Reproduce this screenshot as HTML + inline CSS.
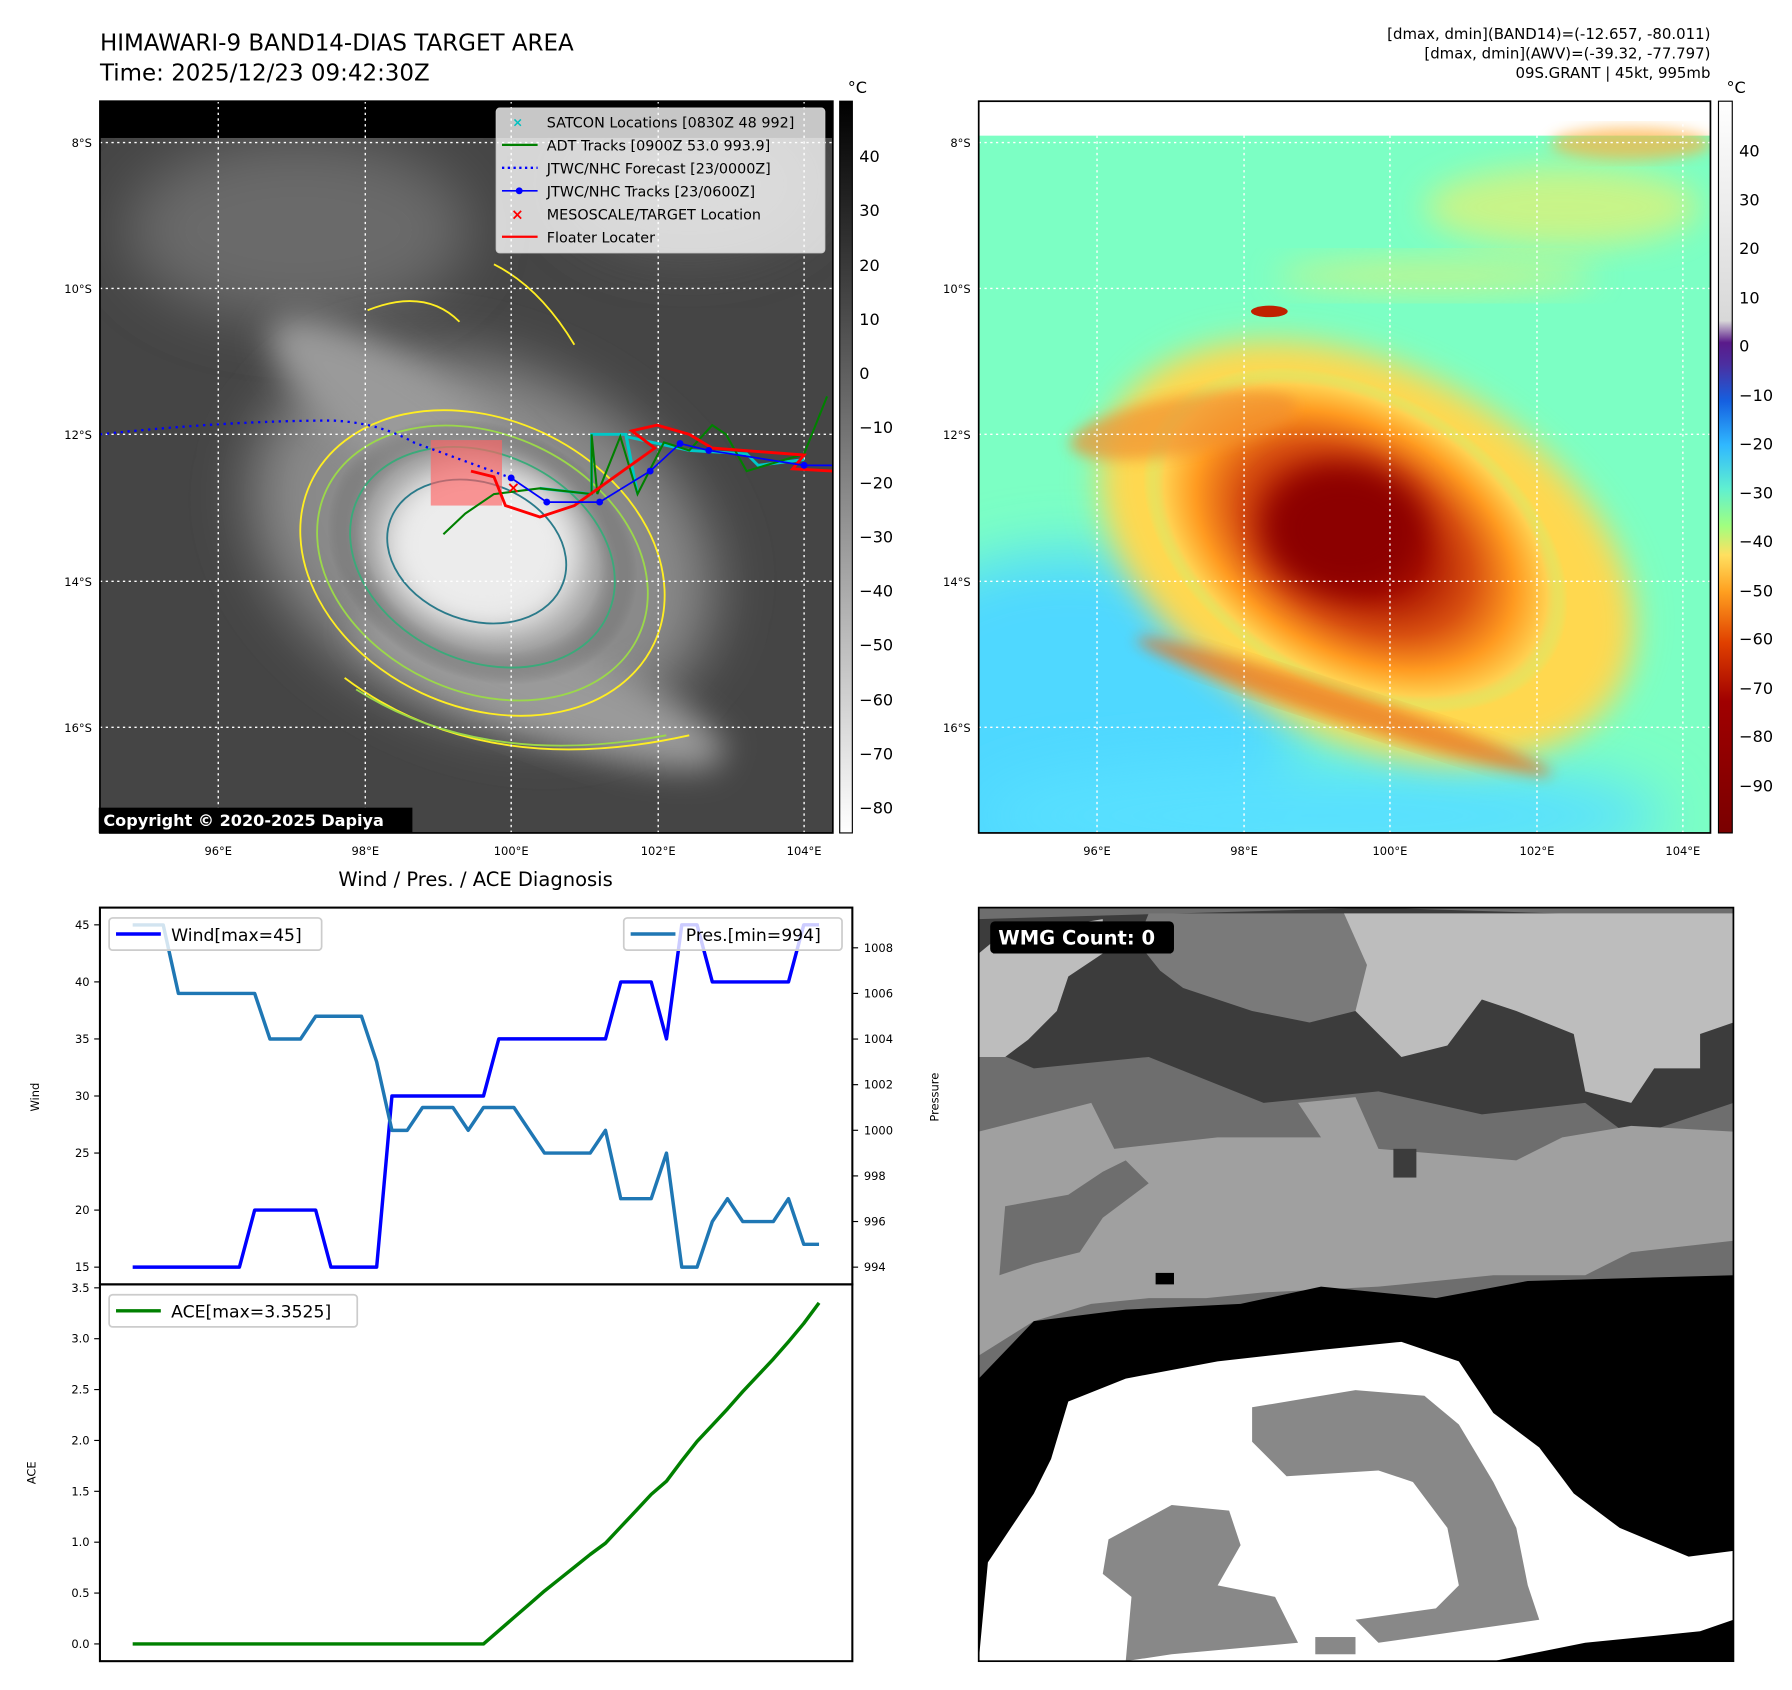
<!DOCTYPE html>
<html><head><meta charset="utf-8">
<style>
html,body{margin:0;padding:0;background:#fff;}
svg{display:block;font-family:"DejaVu Sans","Liberation Sans",sans-serif;}
</style></head>
<body>
<svg id="root" width="1792" height="1690" viewBox="0 0 1560 1471" xmlns="http://www.w3.org/2000/svg">
<defs>
 <filter id="b6" x="-20%" y="-20%" width="140%" height="140%"><feGaussianBlur stdDeviation="6"/></filter>
 <filter id="b14" x="-30%" y="-30%" width="160%" height="160%"><feGaussianBlur stdDeviation="14"/></filter>
 <filter id="b25" x="-40%" y="-40%" width="180%" height="180%"><feGaussianBlur stdDeviation="25"/></filter>
 <clipPath id="cl"><rect x="87" y="88" width="638" height="637"/></clipPath>
 <clipPath id="cr"><rect x="852" y="88" width="637" height="637"/></clipPath>
 <clipPath id="cb"><rect x="852" y="790" width="657" height="656"/></clipPath>
 <linearGradient id="cbL" x1="0" y1="0" x2="0" y2="1">
  <stop offset="0" stop-color="#000"/><stop offset="1" stop-color="#fff"/>
 </linearGradient>
 <linearGradient id="cbR" x1="0" y1="0" x2="0" y2="1">
  <stop offset="0" stop-color="#ffffff"/><stop offset="0.3" stop-color="#d8d8d8"/>
  <stop offset="0.33" stop-color="#5a1a8a"/><stop offset="0.36" stop-color="#4b2fa0"/>
  <stop offset="0.41" stop-color="#1560e0"/><stop offset="0.47" stop-color="#30b8ff"/>
  <stop offset="0.53" stop-color="#60f0d0"/><stop offset="0.58" stop-color="#a0ff80"/>
  <stop offset="0.62" stop-color="#ffe060"/><stop offset="0.67" stop-color="#ffa020"/>
  <stop offset="0.74" stop-color="#e04000"/><stop offset="0.82" stop-color="#a00000"/>
  <stop offset="1" stop-color="#7a0000"/>
 </linearGradient>
 <radialGradient id="gStorm" cx="0.5" cy="0.5" r="0.5">
  <stop offset="0" stop-color="#fafafa"/><stop offset="0.45" stop-color="#dcdcdc"/>
  <stop offset="0.75" stop-color="#a0a0a0"/><stop offset="1" stop-color="#505050" stop-opacity="0"/>
 </radialGradient>
 <radialGradient id="rStorm" cx="0.5" cy="0.5" r="0.5">
  <stop offset="0" stop-color="#8a0000"/><stop offset="0.3" stop-color="#a81000"/>
  <stop offset="0.55" stop-color="#d85010"/><stop offset="0.75" stop-color="#ff9a20"/>
  <stop offset="0.9" stop-color="#ffd050"/><stop offset="1" stop-color="#b0ff80" stop-opacity="0"/>
 </radialGradient>
</defs>

<!-- ========== TOP LEFT MAP ========== -->
<text x="87" y="44" font-size="20">HIMAWARI-9 BAND14-DIAS TARGET AREA</text>
<text x="87" y="70" font-size="20">Time: 2025/12/23 09:42:30Z</text>
<g clip-path="url(#cl)">
 <rect x="87" y="88" width="638" height="637" fill="#454545"/>
 <ellipse cx="260" cy="200" rx="150" ry="80" fill="#6a6a6a" filter="url(#b25)"/>
 <ellipse cx="600" cy="160" rx="110" ry="60" fill="#5c5c5c" filter="url(#b25)"/>
 <ellipse cx="420" cy="470" rx="210" ry="150" transform="rotate(25 420 470)" fill="#8a8a8a" filter="url(#b25)"/>
 <ellipse cx="360" cy="370" rx="150" ry="45" transform="rotate(35 360 370)" fill="#9a9a9a" filter="url(#b14)"/>
 <ellipse cx="470" cy="600" rx="170" ry="40" transform="rotate(20 470 600)" fill="#9a9a9a" filter="url(#b14)"/>
 <ellipse cx="420" cy="480" rx="140" ry="110" transform="rotate(25 420 480)" fill="url(#gStorm)"/>
 <ellipse cx="420" cy="475" rx="80" ry="65" fill="#ececec" filter="url(#b14)"/>
 <rect x="87" y="88" width="638" height="32" fill="#000"/>
 <g fill="none" stroke-width="1.6">
  <ellipse cx="420" cy="490" rx="165" ry="125" transform="rotate(25 420 490)" stroke="#ffee22"/>
  <ellipse cx="420" cy="490" rx="150" ry="112" transform="rotate(25 420 490)" stroke="#9bd84a"/>
  <ellipse cx="420" cy="485" rx="120" ry="90" transform="rotate(25 420 485)" stroke="#3aaa7a"/>
  <ellipse cx="415" cy="480" rx="80" ry="60" transform="rotate(20 415 480)" stroke="#2a7a8a"/>
  <path d="M300 590 Q420 680 600 640" stroke="#ffee22"/>
  <path d="M310 600 Q420 670 580 640" stroke="#9bd84a"/>
  <path d="M320 270 Q370 250 400 280" stroke="#ffee22"/>
  <path d="M430 230 Q470 250 500 300" stroke="#ffee22"/>
 </g>
 <g stroke="#fff" stroke-width="1.2" stroke-dasharray="2,3">
  <line x1="87" y1="124" x2="725" y2="124"/><line x1="87" y1="251" x2="725" y2="251"/>
  <line x1="87" y1="378" x2="725" y2="378"/><line x1="87" y1="506" x2="725" y2="506"/>
  <line x1="87" y1="633" x2="725" y2="633"/>
  <line x1="190" y1="88" x2="190" y2="725"/><line x1="318" y1="88" x2="318" y2="725"/>
  <line x1="445" y1="88" x2="445" y2="725"/><line x1="573" y1="88" x2="573" y2="725"/>
  <line x1="700" y1="88" x2="700" y2="725"/>
 </g>
 <rect x="375" y="383" width="62" height="57" fill="rgba(255,100,100,0.65)"/>
 <path d="M87 378 Q200 366 290 366 Q330 368 360 385 L445 416" fill="none" stroke="#0000ff" stroke-width="2" stroke-dasharray="2,4"/>
 <path d="M470 425 L515 430 L515 378 L545 378 L555 430 L545 380 L600 392 L650 395 L660 405 L700 400" fill="none" stroke="#00c8c8" stroke-width="2.5"/>
 <path d="M386 465 L405 447 L430 430 L470 425 L515 430 L515 378 L520 430 L540 380 L555 430 L578 385 L600 392 L620 370 L632 378 L650 410 L700 395 L720 345" fill="none" stroke="#008000" stroke-width="1.8"/>
 <path d="M410 410 L430 415 L440 440 L470 450 L500 440 L570 390 L550 375 L572 370 L600 378 L620 390 L700 396 L690 408 L725 410" fill="none" stroke="#ff0000" stroke-width="2.5"/>
 <polyline points="445,416 476,437 522,437 566,410 592,386 617,392 700,405 725,405" fill="none" stroke="#0000ff" stroke-width="1.5"/>
 <g fill="#0000ff"><circle cx="445" cy="416" r="3"/><circle cx="476" cy="437" r="3"/><circle cx="522" cy="437" r="3"/><circle cx="566" cy="410" r="3"/><circle cx="592" cy="386" r="3"/><circle cx="617" cy="392" r="3"/><circle cx="700" cy="405" r="3"/></g>
 <text x="441" y="429" font-size="14" fill="#f00" font-weight="bold">×</text>
</g>
<rect x="87" y="88" width="638" height="637" fill="none" stroke="#000" stroke-width="1.5"/>
<g font-size="12.5">
 <rect x="432" y="94" width="286" height="126" rx="3" fill="rgba(255,255,255,0.78)" stroke="#ccc"/>
 <text x="446" y="110" font-size="11" fill="#00c0c0" font-weight="bold">×</text><text x="476" y="111">SATCON Locations [0830Z 48 992]</text>
 <line x1="437" y1="126" x2="468" y2="126" stroke="#008000" stroke-width="2"/><text x="476" y="131">ADT Tracks [0900Z 53.0 993.9]</text>
 <line x1="437" y1="146" x2="468" y2="146" stroke="#00f" stroke-width="2" stroke-dasharray="2,3"/><text x="476" y="151">JTWC/NHC Forecast [23/0000Z]</text>
 <line x1="437" y1="166" x2="468" y2="166" stroke="#00f" stroke-width="1.5"/><circle cx="452" cy="166" r="3" fill="#00f"/><text x="476" y="171">JTWC/NHC Tracks [23/0600Z]</text>
 <text x="445" y="191" font-size="13" fill="#f00" font-weight="bold">×</text><text x="476" y="191">MESOSCALE/TARGET Location</text>
 <line x1="437" y1="206" x2="468" y2="206" stroke="#f00" stroke-width="2"/><text x="476" y="211">Floater Locater</text>
</g>
<g>
 <rect x="86" y="703" width="273" height="22" fill="#000"/>
 <text x="90" y="719" font-size="14" font-weight="bold" fill="#fff">Copyright © 2020-2025 Dapiya</text>
</g>
<g font-size="10" text-anchor="end">
 <text x="80" y="128">8°S</text><text x="80" y="255">10°S</text><text x="80" y="382">12°S</text><text x="80" y="510">14°S</text><text x="80" y="637">16°S</text>
</g>
<g font-size="10" text-anchor="middle">
 <text x="190" y="744">96°E</text><text x="318" y="744">98°E</text><text x="445" y="744">100°E</text><text x="573" y="744">102°E</text><text x="700" y="744">104°E</text>
</g>
<g>
 <text x="738" y="81" font-size="14">°C</text>
 <rect x="731" y="88" width="11" height="637" fill="url(#cbL)" stroke="#000" stroke-width="1"/>
 <g font-size="14">
  <text x="748" y="141">40</text><text x="748" y="188">30</text><text x="748" y="236">20</text><text x="748" y="283">10</text><text x="748" y="330">0</text>
  <text x="748" y="377">−10</text><text x="748" y="425">−20</text><text x="748" y="472">−30</text><text x="748" y="519">−40</text><text x="748" y="566">−50</text>
  <text x="748" y="614">−60</text><text x="748" y="661">−70</text><text x="748" y="708">−80</text>
 </g>
</g>

<!-- ========== TOP RIGHT MAP ========== -->
<g font-size="13" text-anchor="end">
 <text x="1489" y="34">[dmax, dmin](BAND14)=(-12.657, -80.011)</text>
 <text x="1489" y="51">[dmax, dmin](AWV)=(-39.32, -77.797)</text>
 <text x="1489" y="68">09S.GRANT | 45kt, 995mb</text>
</g>
<g clip-path="url(#cr)">
 <rect x="852" y="88" width="637" height="637" fill="#7cffc4"/>
 <rect x="852" y="88" width="637" height="30" fill="#fff"/>
 <ellipse cx="930" cy="640" rx="200" ry="160" fill="#50d8ff" filter="url(#b25)"/>
 <ellipse cx="1150" cy="710" rx="300" ry="50" fill="#58e0ff" filter="url(#b25)"/>
 <ellipse cx="1360" cy="180" rx="120" ry="35" fill="#e8f070" opacity="0.7" filter="url(#b14)"/>
 <ellipse cx="1420" cy="125" rx="70" ry="14" fill="#ffb040" opacity="0.7" filter="url(#b6)"/>
 <ellipse cx="1250" cy="240" rx="140" ry="15" fill="#e8f070" opacity="0.6" filter="url(#b14)"/>
 <ellipse cx="1190" cy="480" rx="250" ry="160" transform="rotate(28 1190 480)" fill="#ffd850" filter="url(#b14)"/>
 <ellipse cx="1180" cy="470" rx="200" ry="130" transform="rotate(30 1180 470)" fill="url(#rStorm)"/>
 <ellipse cx="1170" cy="460" rx="70" ry="55" fill="#8c0000" filter="url(#b14)"/>
 <ellipse cx="1170" cy="615" rx="190" ry="14" transform="rotate(18 1170 615)" fill="#e87020" opacity="0.7" filter="url(#b6)"/>
 <ellipse cx="1030" cy="370" rx="100" ry="25" transform="rotate(-10 1030 370)" fill="#f09030" opacity="0.7" filter="url(#b6)"/>
 <ellipse cx="1105" cy="271" rx="16" ry="5" fill="#c02000"/>
 <g stroke="#fff" stroke-width="1.2" stroke-dasharray="2,3">
  <line x1="852" y1="124" x2="1489" y2="124"/><line x1="852" y1="251" x2="1489" y2="251"/>
  <line x1="852" y1="378" x2="1489" y2="378"/><line x1="852" y1="506" x2="1489" y2="506"/>
  <line x1="852" y1="633" x2="1489" y2="633"/>
  <line x1="955" y1="88" x2="955" y2="725"/><line x1="1083" y1="88" x2="1083" y2="725"/>
  <line x1="1210" y1="88" x2="1210" y2="725"/><line x1="1338" y1="88" x2="1338" y2="725"/>
  <line x1="1465" y1="88" x2="1465" y2="725"/>
 </g>
</g>
<rect x="852" y="88" width="637" height="637" fill="none" stroke="#000" stroke-width="1.5"/>
<g font-size="10" text-anchor="end">
 <text x="845" y="128">8°S</text><text x="845" y="255">10°S</text><text x="845" y="382">12°S</text><text x="845" y="510">14°S</text><text x="845" y="637">16°S</text>
</g>
<g font-size="10" text-anchor="middle">
 <text x="955" y="744">96°E</text><text x="1083" y="744">98°E</text><text x="1210" y="744">100°E</text><text x="1338" y="744">102°E</text><text x="1465" y="744">104°E</text>
</g>
<g>
 <text x="1503" y="81" font-size="14">°C</text>
 <rect x="1496" y="88" width="12" height="637" fill="url(#cbR)" stroke="#000" stroke-width="1"/>
 <g font-size="14">
  <text x="1514" y="136">40</text><text x="1514" y="179">30</text><text x="1514" y="221">20</text><text x="1514" y="264">10</text><text x="1514" y="306">0</text>
  <text x="1514" y="349">−10</text><text x="1514" y="391">−20</text><text x="1514" y="434">−30</text><text x="1514" y="476">−40</text><text x="1514" y="519">−50</text>
  <text x="1514" y="561">−60</text><text x="1514" y="604">−70</text><text x="1514" y="646">−80</text><text x="1514" y="689">−90</text>
 </g>
</g>

<!-- ========== BOTTOM RIGHT ========== -->
<g clip-path="url(#cb)">
 <rect x="852" y="790" width="657" height="656" fill="#6e6e6e"/>
 <polygon fill="#3c3c3c" points="852,800 1200,790 1509,800 1509,960 1420,990 1380,960 1290,970 1200,950 1100,960 1000,920 900,930 852,910"/>
 <polygon fill="#bdbdbd" points="852,830 870,815 960,800 960,830 930,850 920,880 895,905 875,920 852,920"/>
 <polygon fill="#bdbdbd" points="1170,795 1509,795 1509,890 1480,900 1480,930 1440,930 1420,960 1380,950 1370,900 1320,880 1290,870 1260,910 1220,920 1200,900 1180,880 1170,840"/>
 <polygon fill="#7a7a7a" points="1000,795 1170,795 1190,840 1180,880 1140,890 1090,880 1060,870 1030,860 1010,845 990,820"/>
 <polygon fill="#a0a0a0" points="852,985 950,960 970,1000 1060,990 1150,990 1130,960 1180,955 1200,1000 1320,1010 1360,990 1420,980 1509,985 1509,1080 1420,1090 1380,1110 1300,1110 1200,1120 1100,1125 1050,1130 1000,1130 950,1135 900,1150 852,1180"/>
 <polygon fill="#6e6e6e" points="875,1050 930,1040 960,1020 980,1010 1000,1030 960,1060 940,1090 900,1100 870,1110"/>
 <rect x="1006" y="1108" width="16" height="10" fill="#000"/>
 <rect x="1213" y="1000" width="20" height="25" fill="#3c3c3c"/>
 <polygon fill="#000" points="852,1200 900,1150 980,1140 1080,1135 1150,1120 1250,1130 1330,1115 1509,1110 1509,1446 852,1446"/>
 <polygon fill="#fff" points="852,1446 860,1360 880,1330 900,1300 915,1270 930,1220 980,1200 1060,1185 1150,1175 1220,1168 1270,1185 1300,1230 1340,1260 1370,1300 1410,1330 1470,1355 1509,1350 1509,1410 1480,1420 1380,1430 1300,1446"/>
 <polygon fill="#888" points="1090,1225 1180,1210 1240,1215 1270,1240 1300,1290 1320,1330 1330,1380 1340,1410 1270,1420 1200,1430 1180,1410 1250,1400 1270,1380 1260,1330 1230,1290 1200,1280 1120,1285 1090,1255"/>
 <polygon fill="#888" points="965,1340 1020,1310 1070,1315 1080,1345 1060,1380 1110,1390 1130,1430 1020,1440 980,1446 985,1390 960,1370"/>
 <rect x="1145" y="1425" width="35" height="15" fill="#888"/>
</g>
<rect x="852" y="790" width="657" height="656" fill="none" stroke="#000" stroke-width="1.5"/>
<g>
 <rect x="862" y="802" width="160" height="28" rx="4" fill="#000"/>
 <text x="869" y="822" font-size="17" font-weight="bold" fill="#fff">WMG Count: 0</text>
</g>

<!-- ========== BOTTOM LEFT CHART ========== -->
<text x="414" y="771" font-size="17" text-anchor="middle">Wind / Pres. / ACE Diagnosis</text>
<g id="chart"></g>
</svg>

<script>
const windValues = [15,15,15,15,15,15,15,15,20,20,20,20,20,15,15,15,15,30,30,30,30,30,30,30,35,35,35,35,35,35,35,35,40,40,40,35,45,45,40,40,40,40,40,40,45,45];
const presValues = [1009,1009,1009,1006,1006,1006,1006,1006,1006,1004,1004,1004,1005,1005,1005,1005,1003,1000,1000,1001,1001,1001,1000,1001,1001,1001,1000,999,999,999,999,1000,997,997,997,999,994,994,996,997,996,996,996,997,995,995];
const aceValues = [0,0,0,0,0,0,0,0,0,0,0,0,0,0,0,0,0,0,0,0,0,0,0,0,0.13,0.26,0.39,0.52,0.64,0.76,0.88,0.99,1.15,1.31,1.47,1.60,1.80,1.99,2.15,2.31,2.48,2.64,2.80,2.97,3.15,3.3525];
const windTicks = [15,20,25,30,35,40,45];
const presTicks = [994,996,998,1000,1002,1004,1006,1008];
const aceTicks = [0.0,0.5,1.0,1.5,2.0,2.5,3.0,3.5];

const NS='http://www.w3.org/2000/svg';
const g=document.getElementById('chart');
function mk(tag,attrs,parent){const e=document.createElementNS(NS,tag);for(const k in attrs)e.setAttribute(k,attrs[k]);(parent||g).appendChild(e);return e;}
const n=windValues.length;
const xS=i=>115.5+i*(713-115.5)/(n-1);
const yWind=v=>1103-(v-15)*(1103-805)/30;
const yPres=v=>1103-(v-994)*(1103-825)/14;
const yAce=v=>1431-v*(1431-1121)/3.5;

let p=mk('rect',{x:87,y:790,width:655,height:328,fill:'none',stroke:'#000','stroke-width':1.8});


p=mk('rect',{x:87,y:1118,width:655,height:328,fill:'none',stroke:'#000','stroke-width':1.8});



function tickL(y,label,name){
  const l=mk('line',{x1:82,y1:y,x2:87,y2:y,stroke:'#000'});
  
  
  const t=mk('text',{x:78,y:y+3.5,'font-size':10,'text-anchor':'end'});
  t.textContent=label;
  
  
}
windTicks.forEach(v=>tickL(yWind(v),String(v),'wind'));
aceTicks.forEach(v=>tickL(yAce(v),v.toFixed(1),'ace'));
presTicks.forEach(v=>{
  const y=yPres(v);
  const l=mk('line',{x1:742,y1:y,x2:747,y2:y,stroke:'#000'});
  
  
  const t=mk('text',{x:752,y:y+3.5,'font-size':10});
  t.textContent=String(v);
  
  
});
function axLabel(x,y,txt,name){
  const t=mk('text',{x:x,y:y,'font-size':10,'text-anchor':'middle',transform:`rotate(-90 ${x} ${y})`});
  t.textContent=txt;
  
  
}
axLabel(34,955,'Wind','wind-axis-title');
axLabel(817,955,'Pressure','pressure-axis-title');
axLabel(31,1282,'ACE','ace-axis-title');

function series(vals,yf,color,name){
  const pts=vals.map((v,i)=>xS(i).toFixed(1)+','+yf(v).toFixed(1)).join(' ');
  const l=mk('polyline',{points:pts,fill:'none',stroke:color,'stroke-width':3,'stroke-linejoin':'round'});
  
  
}
series(windValues,yWind,'#0000ff','wind-line');
series(presValues,yPres,'#1f77b4','pressure-line');
series(aceValues,yAce,'#008000','ace-line');

function legend(x,y,w,color,label,name){
  const lg=mk('g',{});
  
  
  mk('rect',{x:x,y:y,width:w,height:28,rx:3,fill:'rgba(255,255,255,0.8)',stroke:'#ccc','stroke-width':1.5},lg);
  mk('line',{x1:x+6,y1:y+14,x2:x+45,y2:y+14,stroke:color,'stroke-width':3},lg);
  const t=mk('text',{x:x+54,y:y+20,'font-size':15},lg);
  t.textContent=label;
}
legend(95,799,185,'#0000ff','Wind[max=45]','wind-legend');
legend(543,799,190,'#1f77b4','Pres.[min=994]','pressure-legend');
legend(95,1127,216,'#008000','ACE[max=3.3525]','ace-legend');
</script>
</body></html>
